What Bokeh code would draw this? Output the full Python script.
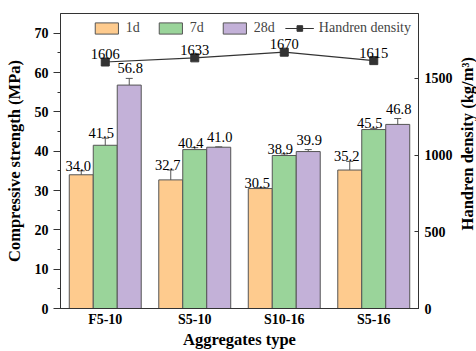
import math
from bokeh.plotting import figure
from bokeh.layouts import row
from bokeh.models import (ColumnDataSource, FactorRange, Range1d, LinearAxis, Whisker, TeeHead,
                          Legend, LegendItem, FixedTicker)
from bokeh.transform import dodge
from bokeh.core.properties import value
from bokeh.embed import file_html
from bokeh.resources import INLINE

categories = ["F5-10", "S5-10", "S10-16", "S5-16"]
s1d = [34.0, 32.7, 30.5, 35.2]
s7d = [41.5, 40.4, 38.9, 45.5]
s28d = [56.8, 41.0, 39.9, 46.8]
e1d = [1.0, 2.5, 0.2, 2.2]
e7d = [1.8, 0.5, 0.4, 0.3]
e28d = [1.7, 0.1, 0.5, 1.5]
density = [1606, 1633, 1670, 1615]
right_title = ["Handren density (kg/m³)"]

FONT = "Liberation Serif"
colors = ["#FECB8E", "#9AD49A", "#C3B1D8"]
names = ["1d", "7d", "28d"]
W = 0.268
offsets = [-W, 0.0, W]
lab_dx = [-3, -4, 1]
lab_dy = [0, 0, -5]

p = figure(width=458, height=351, x_range=FactorRange(factors=categories, range_padding=0),
           y_range=Range1d(0, 75), output_backend="svg", toolbar_location=None,
           min_border_left=60, min_border_right=40, min_border_top=13, min_border_bottom=42)
p.extra_y_ranges = {"dens": Range1d(0, 1922)}
p.xgrid.visible = False
p.ygrid.visible = False
p.outline_line_color = "#333333"
p.outline_line_width = 1
p.background_fill_color = "white"
p.border_fill_color = "white"

bar_renderers = []
for vals, errs, off, col, dx, dy in zip([s1d, s7d, s28d], [e1d, e7d, e28d], offsets, colors, lab_dx, lab_dy):
    src = ColumnDataSource(dict(cat=categories, val=vals,
                                up=[v + e for v, e in zip(vals, errs)],
                                lo=[v - e for v, e in zip(vals, errs)],
                                lab=["%.1f" % v for v in vals]))
    r = p.vbar(x=dodge("cat", off, range=p.x_range), top="val", width=W, source=src,
               fill_color=col, line_color="#555555", line_width=1)
    bar_renderers.append(r)
    wk = Whisker(base=dodge("cat", off, range=p.x_range), upper="up", lower="lo", source=src,
                 line_color="#555555", line_width=1,
                 upper_head=TeeHead(size=7, line_color="#555555", line_width=1),
                 lower_head=TeeHead(size=7, line_color="#555555", line_width=1))
    p.add_layout(wk)
    p.text(x=dodge("cat", off, range=p.x_range), y="up", text="lab", source=src,
           text_align="center", text_baseline="bottom", x_offset=dx, y_offset=dy,
           text_font=value(FONT), text_font_size="14.5px", text_color="black")

dsrc = ColumnDataSource(dict(cat=categories, d=density, lab=[str(v) for v in density]))
lr = p.line(x="cat", y="d", source=dsrc, y_range_name="dens", line_color="#333333", line_width=1.2)
sr = p.scatter(x="cat", y="d", source=dsrc, y_range_name="dens", marker="square", size=8,
               fill_color="#333333", line_color="#333333")
p.text(x="cat", y="d", text="lab", source=dsrc, y_range_name="dens", text_align="center",
       text_baseline="bottom", y_offset=-3, text_font=value(FONT), text_font_size="14.5px",
       text_color="black")

# Axes
la = p.yaxis[0]
la.ticker = FixedTicker(ticks=[0, 10, 20, 30, 40, 50, 60, 70],
                        minor_ticks=[5, 15, 25, 35, 45, 55, 65])
la.axis_label = "Compressive strength (MPa)"
la.major_tick_out = 7
la.major_tick_in = 0
la.minor_tick_out = 3
la.minor_tick_in = 0

ra = LinearAxis(y_range_name="dens", ticker=FixedTicker(ticks=[0, 500, 1000, 1500], minor_ticks=[]))
ra.major_tick_in = 4
ra.major_tick_out = 0
ra.minor_tick_in = 0
ra.minor_tick_out = 0
p.add_layout(ra, "right")

xa = p.xaxis[0]
xa.axis_label = "Aggregates type"
xa.major_tick_out = 0
xa.major_tick_in = 0

for ax in [la, ra, xa]:
    ax.axis_line_color = "#333333"
    ax.major_tick_line_color = "#333333"
    ax.minor_tick_line_color = "#333333"
    ax.major_label_text_font = FONT
    ax.major_label_text_font_style = "bold"
    ax.major_label_text_font_size = "14px"
    ax.major_label_text_color = "black"
    ax.axis_label_text_font = FONT
    ax.axis_label_text_font_style = "bold"
    ax.axis_label_text_font_size = "16.5px"
    ax.axis_label_text_color = "black"
la.axis_label_standoff = 8
ra.major_label_standoff = 6
xa.axis_label_standoff = 0
xa.major_label_standoff = 3

items = [LegendItem(label=nm, renderers=[r]) for nm, r in zip(names, bar_renderers)]
items.append(LegendItem(label="Handren density", renderers=[lr, sr]))
leg = Legend(items=items, orientation="horizontal", location="top_right",
             label_text_font=FONT, label_text_font_size="14px", glyph_width=29, glyph_height=14,
             spacing=10, padding=4, margin=7, label_standoff=5,
             border_line_color=None, background_fill_alpha=0)
p.add_layout(leg, "center")

# Narrow strip carrying the right-hand axis title, reading bottom-to-top
q = figure(width=18, height=351, x_range=Range1d(0, 1), y_range=Range1d(0, 351),
           output_backend="svg", toolbar_location=None, min_border=0,
           x_axis_location=None, y_axis_location=None)
q.xgrid.visible = False
q.ygrid.visible = False
q.outline_line_color = None
q.border_fill_color = "white"
q.background_fill_color = "white"
q.text(x=[0.5], y=[196], text=right_title, angle=math.pi / 2, text_align="center",
       text_baseline="middle", text_font=value(FONT), text_font_style="bold",
       text_font_size="16.5px", text_color="black")

layout = row(p, q, spacing=0)
open("out.html", "w").write(file_html(layout, INLINE))
